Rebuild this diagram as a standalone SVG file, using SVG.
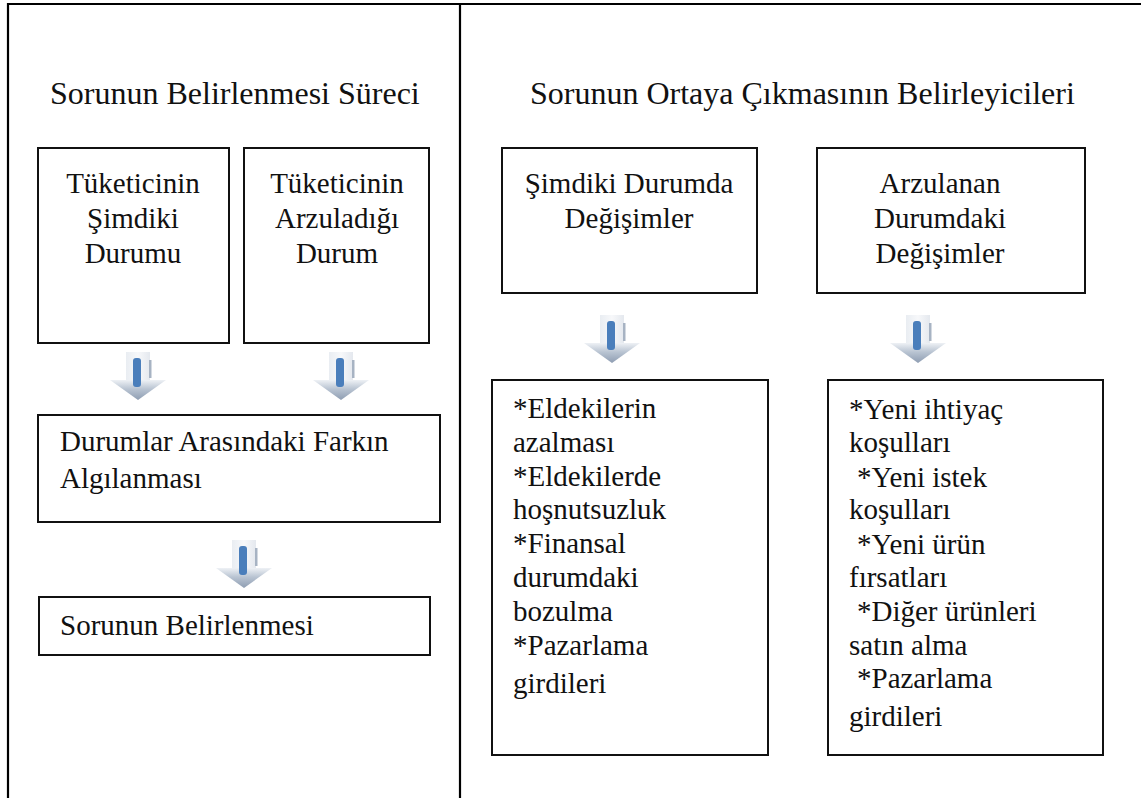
<svg xmlns="http://www.w3.org/2000/svg" xmlns:xlink="http://www.w3.org/1999/xlink" width="1141" height="798" viewBox="0 0 1141 798">
<style>
.frame{stroke:#000;stroke-width:2.2;fill:none}
.box{fill:#fff;stroke:#111;stroke-width:2}
.t{font-size:29px;fill:#111}
.title{font-size:32px;fill:#111}
.c{text-anchor:middle}
</style>
<defs>
<linearGradient id="shaftG" x1="0" y1="0" x2="1" y2="0">
<stop offset="0" stop-color="#e9edf2"/><stop offset="0.5" stop-color="#f7f8fa"/><stop offset="1" stop-color="#e4e8ee"/>
</linearGradient>
<linearGradient id="headG" x1="0" y1="0" x2="0" y2="1">
<stop offset="0" stop-color="#eef1f5"/><stop offset="0.45" stop-color="#b9c4d2"/><stop offset="1" stop-color="#8e9db2"/>
</linearGradient>
<g id="arrow">
<rect x="-12" y="0" width="24" height="30" fill="url(#shaftG)"/>
<polygon points="-28,28 28,28 0,48" fill="url(#headG)"/>
<rect x="-5" y="6" width="8" height="29" rx="3" fill="#4a7ebb"/>
<rect x="11" y="8" width="2.5" height="18" fill="#a7b3c3"/>
</g>
</defs>
<rect width="1141" height="798" fill="#fff"/>
<g id="frame">
<line class="frame" x1="8" y1="4" x2="1141" y2="4"/>
<line class="frame" x1="8" y1="3" x2="8" y2="798"/>
<line class="frame" x1="460" y1="4" x2="460" y2="798"/>
</g>
<g font-family="'Liberation Serif', 'Times New Roman', serif">
<g id="titles">
<text class="title" x="50" y="104">Sorunun Belirlenmesi Süreci</text>
<text class="title" x="530" y="104">Sorunun Ortaya Çıkmasının Belirleyicileri</text>
</g>
<g id="connectors">
<use xlink:href="#arrow" href="#arrow" x="138" y="352"/>
<use xlink:href="#arrow" href="#arrow" x="341" y="352"/>
<use xlink:href="#arrow" href="#arrow" x="244" y="540"/>
<use xlink:href="#arrow" href="#arrow" x="612" y="315"/>
<use xlink:href="#arrow" href="#arrow" x="918" y="315"/>
</g>
<g id="node-current">
<rect class="box" x="38" y="148" width="191" height="195"/>
<text class="t c" x="133" y="193">Tüketicinin</text>
<text class="t c" x="133" y="228">Şimdiki</text>
<text class="t c" x="133" y="263">Durumu</text>
</g>
<g id="node-desired">
<rect class="box" x="244" y="148" width="185" height="195"/>
<text class="t c" x="337" y="193">Tüketicinin</text>
<text class="t c" x="337" y="228">Arzuladığı</text>
<text class="t c" x="337" y="263">Durum</text>
</g>
<g id="node-gap">
<rect class="box" x="38" y="415" width="402" height="107"/>
<text class="t" x="60" y="451">Durumlar Arasındaki Farkın</text>
<text class="t" x="60" y="488">Algılanması</text>
</g>
<g id="node-recognition">
<rect class="box" x="39" y="597" width="391" height="58"/>
<text class="t" x="60" y="635">Sorunun Belirlenmesi</text>
</g>
<g id="node-changes-current">
<rect class="box" x="502" y="148" width="255" height="145"/>
<text class="t c" x="629" y="193">Şimdiki Durumda</text>
<text class="t c" x="629" y="228">Değişimler</text>
</g>
<g id="node-changes-desired">
<rect class="box" x="817" y="148" width="268" height="145"/>
<text class="t c" x="940" y="193">Arzulanan</text>
<text class="t c" x="940" y="228">Durumdaki</text>
<text class="t c" x="940" y="263">Değişimler</text>
</g>
<g id="node-list-current">
<rect class="box" x="492" y="380" width="276" height="375"/>
<text class="t" x="513" y="418">*Eldekilerin</text>
<text class="t" x="513" y="452">azalması</text>
<text class="t" x="513" y="486">*Eldekilerde</text>
<text class="t" x="513" y="519">hoşnutsuzluk</text>
<text class="t" x="513" y="553">*Finansal</text>
<text class="t" x="513" y="587">durumdaki</text>
<text class="t" x="513" y="621">bozulma</text>
<text class="t" x="513" y="655">*Pazarlama</text>
<text class="t" x="513" y="693">girdileri</text>
</g>
<g id="node-list-desired">
<rect class="box" x="828" y="380" width="275" height="375"/>
<text class="t" x="849" y="419">*Yeni ihtiyaç</text>
<text class="t" x="849" y="452">koşulları</text>
<text class="t" x="857" y="487">*Yeni istek</text>
<text class="t" x="849" y="519">koşulları</text>
<text class="t" x="857" y="554">*Yeni ürün</text>
<text class="t" x="849" y="587">fırsatları</text>
<text class="t" x="857" y="621">*Diğer ürünleri</text>
<text class="t" x="849" y="655">satın alma</text>
<text class="t" x="857" y="688">*Pazarlama</text>
<text class="t" x="849" y="726">girdileri</text>
</g>
</g>
</svg>
